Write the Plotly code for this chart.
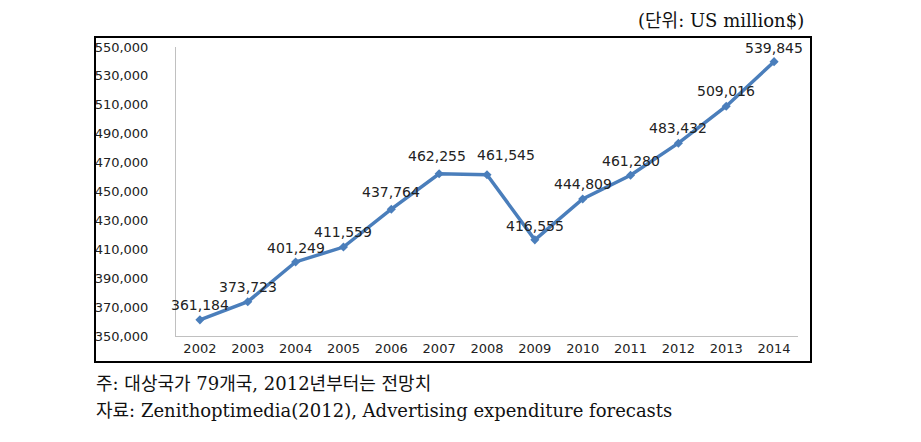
import plotly.graph_objects as go

years = ["2002", "2003", "2004", "2005", "2006", "2007", "2008",
         "2009", "2010", "2011", "2012", "2013", "2014"]
values = [361184, 373723, 401249, 411559, 437764, 462255, 461545,
          416555, 444809, 461280, 483432, 509016, 539845]
labels = [f"{v:,}" for v in values]
y_ticks = list(range(350000, 550001, 20000))
y_tick_text = [f"{v:,}" for v in y_ticks]

# label placement offsets (pixels) — styling only
label_dx = [0, 0, 0, 0, 0, -2, 19, 0, 0, 0, 0, 0, 0]
label_dy = [15, 15, 14, 15, 17, 18, 20, 14, 15, 14, 15, 15, 14]

W, H = 921, 442
L, R, T, B = 168, 131, 39, 114
pw, ph = W - L - R, H - T - B

def px_x(x):
    return (x - L) / pw

def px_y(y):
    return (H - B - y) / ph

fig = go.Figure()
fig.add_trace(go.Scatter(
    x=years, y=values, mode="lines+markers",
    line=dict(color="#4a7ebb", width=3.5),
    marker=dict(symbol="diamond", size=7, color="#4a7ebb"),
    cliponaxis=False, showlegend=False, hoverinfo="x+y",
))

annots = []
for i, (v, t, dx, dy) in enumerate(zip(values, labels, label_dx, label_dy)):
    annots.append(dict(
        x=i, y=v, xref="x", yref="y", text=t, showarrow=False,
        xanchor="center", yanchor="middle", xshift=dx, yshift=dy,
        font=dict(family="DejaVu Sans", size=14, color="#222222"),
    ))

serif = "DejaVu Serif, Noto Sans CJK KR"
annots += [
    dict(text="(단위: US million$)", xref="paper", yref="paper",
         x=px_x(798), y=px_y(13), xanchor="right", yanchor="middle",
         showarrow=False, font=dict(family=serif, size=18, color="#111111")),
    dict(text="주: 대상국가 79개국, 2012년부터는 전망치", xref="paper", yref="paper",
         x=px_x(86), y=px_y(375), xanchor="left", yanchor="middle",
         showarrow=False, font=dict(family=serif, size=18, color="#111111")),
    dict(text="자료: Zenithoptimedia(2012), Advertising expenditure forecasts",
         xref="paper", yref="paper",
         x=px_x(86), y=px_y(402), xanchor="left", yanchor="middle",
         showarrow=False, font=dict(family=serif, size=18, color="#111111")),
]

fig.update_layout(
    width=W, height=H,
    margin=dict(l=L, r=R, t=T, b=B),
    paper_bgcolor="white", plot_bgcolor="white",
    xaxis=dict(
        type="category", range=[-0.5, 12.5],
        showline=True, linecolor="#c0c0c0", linewidth=1,
        showgrid=False, zeroline=False, ticks="",
        tickfont=dict(family="DejaVu Sans", size=13, color="#222222"),
    ),
    yaxis=dict(
        range=[350000, 550000], tickvals=y_ticks, ticktext=y_tick_text,
        showline=True, linecolor="#c0c0c0", linewidth=1,
        showgrid=False, zeroline=False, ticks="",
        ticklabelstandoff=24,
        tickfont=dict(family="DejaVu Sans", size=13, color="#222222"),
    ),
    shapes=[dict(
        type="rect", xref="paper", yref="paper",
        x0=px_x(87), x1=px_x(803), y0=px_y(354), y1=px_y(29),
        line=dict(color="black", width=2), fillcolor="rgba(0,0,0,0)",
    )],
    annotations=annots,
)

fig.write_html("out.html")
